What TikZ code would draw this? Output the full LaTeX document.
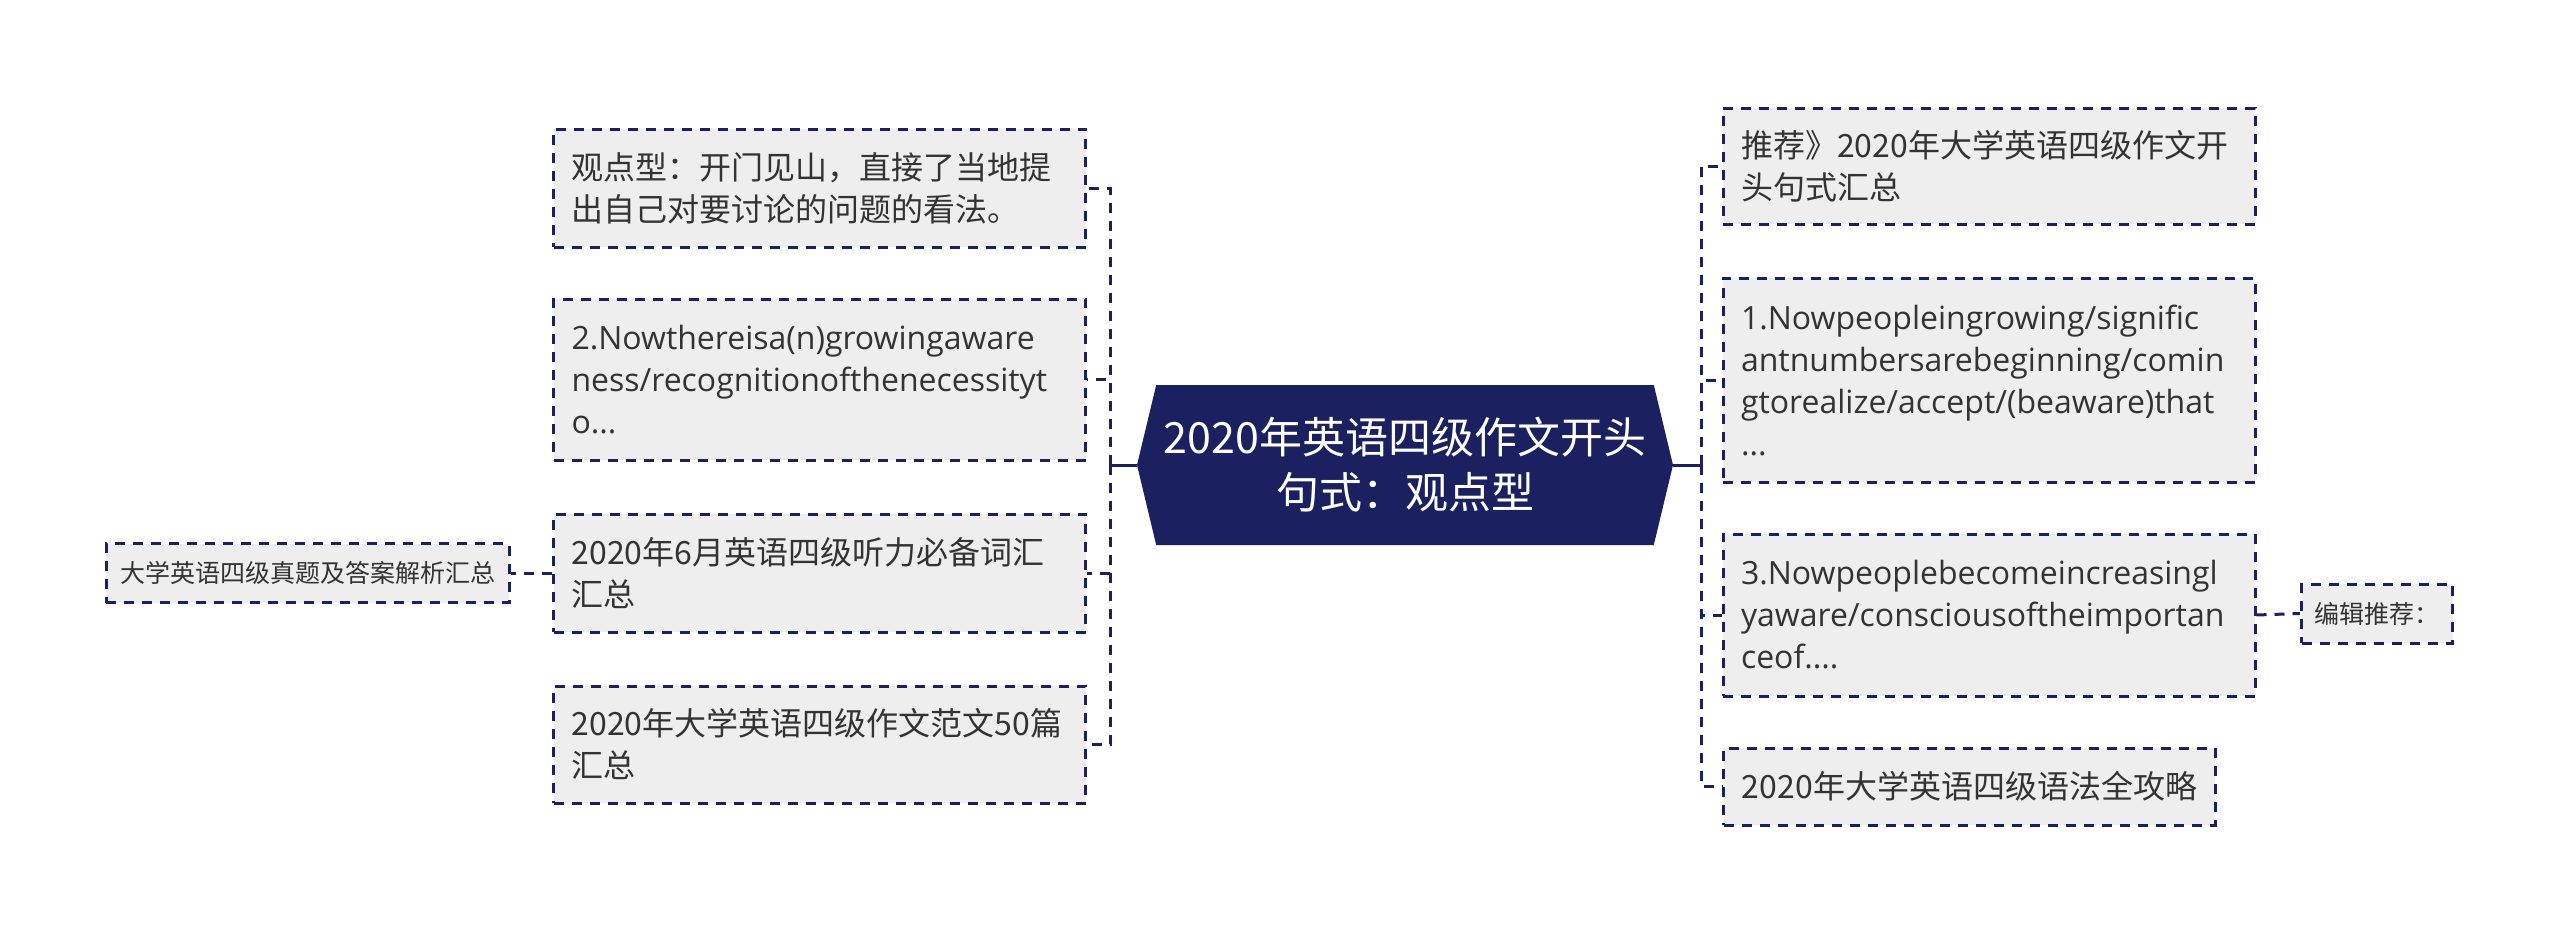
\documentclass[tikz,border=0pt]{standalone}
\usepackage{fontspec}
\setmainfont{Noto Sans CJK SC}
\newfontfamily\latinfont{Open Sans}
\usetikzlibrary{shapes.symbols}
\definecolor{navy}{RGB}{26,32,96}
\definecolor{boxgrey}{RGB}{238,238,238}
\definecolor{textgrey}{RGB}{51,51,51}

\begin{document}
\begin{tikzpicture}[x=0.5pt,y=-0.5pt,
		topic/.style={draw=navy, line width=1.5pt, dash pattern=on 5pt off 4pt, fill=boxgrey, text=textgrey, align=left, inner xsep=9pt, inner ysep=0pt, font=\fontsize{16}{21}\selectfont},
		widetopic/.style={topic, text width=248pt, minimum height=#1},
		note/.style={topic, inner xsep=6.5pt, minimum height=29.5pt, font=\fontsize{12.5}{15}\selectfont},
		link/.style={draw=navy, line width=1.5pt, dash pattern=on 5pt off 4pt},
		stem/.style={draw=navy, line width=1.5pt}]
		\useasboundingbox (0,0) rectangle (2560,933);
		\node[signal, signal to=west and east, signal pointer angle=153, fill=navy, text=white, align=center, inner sep=0pt, minimum width=268pt, minimum height=80pt, font=\fontsize{21.5}{27.5}\selectfont] (root) at (1405,465) {2020年英语四级作文开头\\句式：观点型};
		\node[widetopic=59pt] (view) at (819.5,188) {观点型：开门见山，直接了当地提\\出自己对要讨论的问题的看法。};
		\node[widetopic=80.5pt, font=\fontsize{16}{21}\latinfont] (aware) at (819.5,379.5) {2.Nowthereisa(n)growingaware\\ness/recognitionofthenecessityt\\o...};
		\node[widetopic=59pt] (listen) at (819.5,573) {2020年6月英语四级听力必备词汇\\汇总};
		\node[widetopic=58.5pt] (essay) at (819.5,744.5) {2020年大学英语四级作文范文50篇\\汇总};
		\node[note, minimum width=201.5pt] (exam) at (307.5,573) {大学英语四级真题及答案解析汇总};
		\node[widetopic=58pt] (recom) at (1989,166) {推荐》2020年大学英语四级作文开\\头句式汇总};
		\node[widetopic=102pt, font=\fontsize{16}{21}\latinfont] (grow) at (1989,380) {1.Nowpeopleingrowing/signific\\antnumbersarebeginning/comin\\gtorealize/accept/(beaware)that\\...};
		\node[widetopic=81pt, font=\fontsize{16}{21}\latinfont] (become) at (1989,615) {3.Nowpeoplebecomeincreasingl\\yaware/consciousoftheimportan\\ceof....};
		\node[topic, minimum height=38.5pt] (grammar) at (1969.5,786.5) {2020年大学英语四级语法全攻略};
		\node[note, minimum width=75pt] (editor) at (2377,613.5) {编辑推荐：};
		\coordinate (lfork) at (1110,465);
		\coordinate (rfork) at (1701,465);
		\draw[stem] (root.west) -- (lfork);
		\draw[stem] (root.east) -- (rfork);
		\draw[link] (lfork) |- (view.east);
		\draw[link] (lfork) |- (aware.east);
		\draw[link] (lfork) |- (listen.east);
		\draw[link] (lfork) |- (essay.east);
		\draw[link] (rfork) |- (recom.west);
		\draw[link] (rfork) |- (grow.west);
		\draw[link] (rfork) |- (become.west);
		\draw[link] (rfork) |- (grammar.west);
		\draw[link] (listen.west) -- (exam.east);
		\draw[link] (become.east) -- (editor.west);
		\end{tikzpicture}
\end{document}
